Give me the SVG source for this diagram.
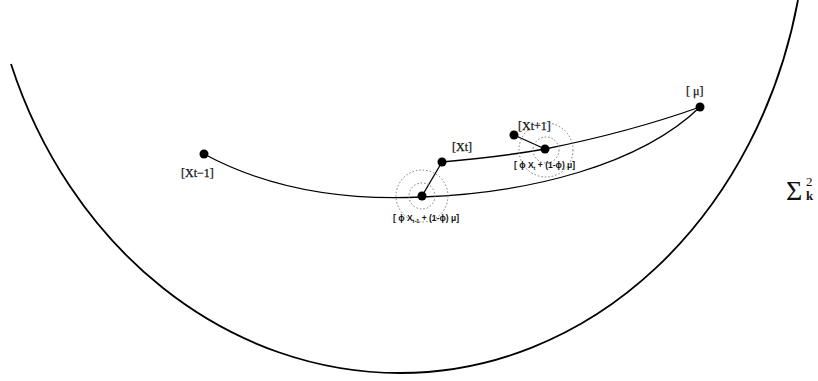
<svg xmlns="http://www.w3.org/2000/svg" width="818" height="381" viewBox="0 0 818 381">
<style>
.curve{fill:none;stroke:#000;stroke-width:1.3}
.big{fill:none;stroke:#000;stroke-width:1.8}
.dot{fill:#000}
.dash{fill:none;stroke:#777;stroke-width:1;stroke-dasharray:1.5 2}
.lbl{font-family:"Liberation Serif",serif;font-size:12px;fill:#111;stroke:#111;stroke-width:0.25}
.frm{font-family:"Liberation Sans",sans-serif;font-size:8.5px;font-weight:bold;fill:#111}
.sub{font-size:5.5px}
.sig{font-family:"Liberation Serif","DejaVu Serif",serif;fill:#111}
</style>
<rect width="818" height="381" fill="#fff"/>
<path class="big" d="M11,64 A415,473 0 0 0 400,373 A407,473 0 0 0 798,0"/>
<g id="connectors">
<path class="curve" d="M204,154 C280,195 360,200 422,197 C530,193 640,165 700,107"/>
<path class="curve" d="M442,162 Q500,157 545,149 Q630,132 700,107"/>
<line class="curve" x1="442" y1="162" x2="422" y2="196"/>
<line class="curve" x1="514" y1="135" x2="545" y2="149"/>
</g>
<g id="n-xtm1"><circle class="dot" cx="204" cy="154" r="4.5"/><text class="lbl" x="181" y="177">[Xt−1]</text></g>
<g id="n-xt"><circle class="dot" cx="442" cy="162" r="4.5"/><text class="lbl" x="452" y="151">[Xt]</text></g>
<g id="n-c1"><circle class="dash" cx="422" cy="196" r="26"/><circle class="dash" cx="422" cy="196" r="13"/><circle class="dot" cx="422" cy="196" r="4.5"/><text class="frm" x="393" y="221">[ ϕ X<tspan class="sub" dy="1.5">t-1</tspan><tspan dy="-1.5"> + (1-ϕ) μ]</tspan></text></g>
<g id="n-xtp1"><circle class="dot" cx="514" cy="135" r="4.5"/><text class="lbl" x="518" y="130">[Xt+1]</text></g>
<g id="n-c2"><circle class="dash" cx="546" cy="150" r="27"/><circle class="dash" cx="546" cy="150" r="13"/><circle class="dot" cx="545" cy="149" r="4.5"/><text class="frm" x="514" y="168">[ ϕ X<tspan class="sub" dy="1.5">t</tspan><tspan dy="-1.5"> + (1-ϕ) μ]</tspan></text></g>
<g id="n-mu"><circle class="dot" cx="700" cy="107" r="4.5"/><text class="lbl" x="686" y="95" font-size="10">[ μ]</text></g>
<g id="sigma"><text class="sig" x="786" y="200" font-size="28">Σ</text><text class="sig" x="806" y="186" font-size="13">2</text><text class="sig" x="806" y="200" font-size="13" font-weight="bold">k</text></g>
</svg>
